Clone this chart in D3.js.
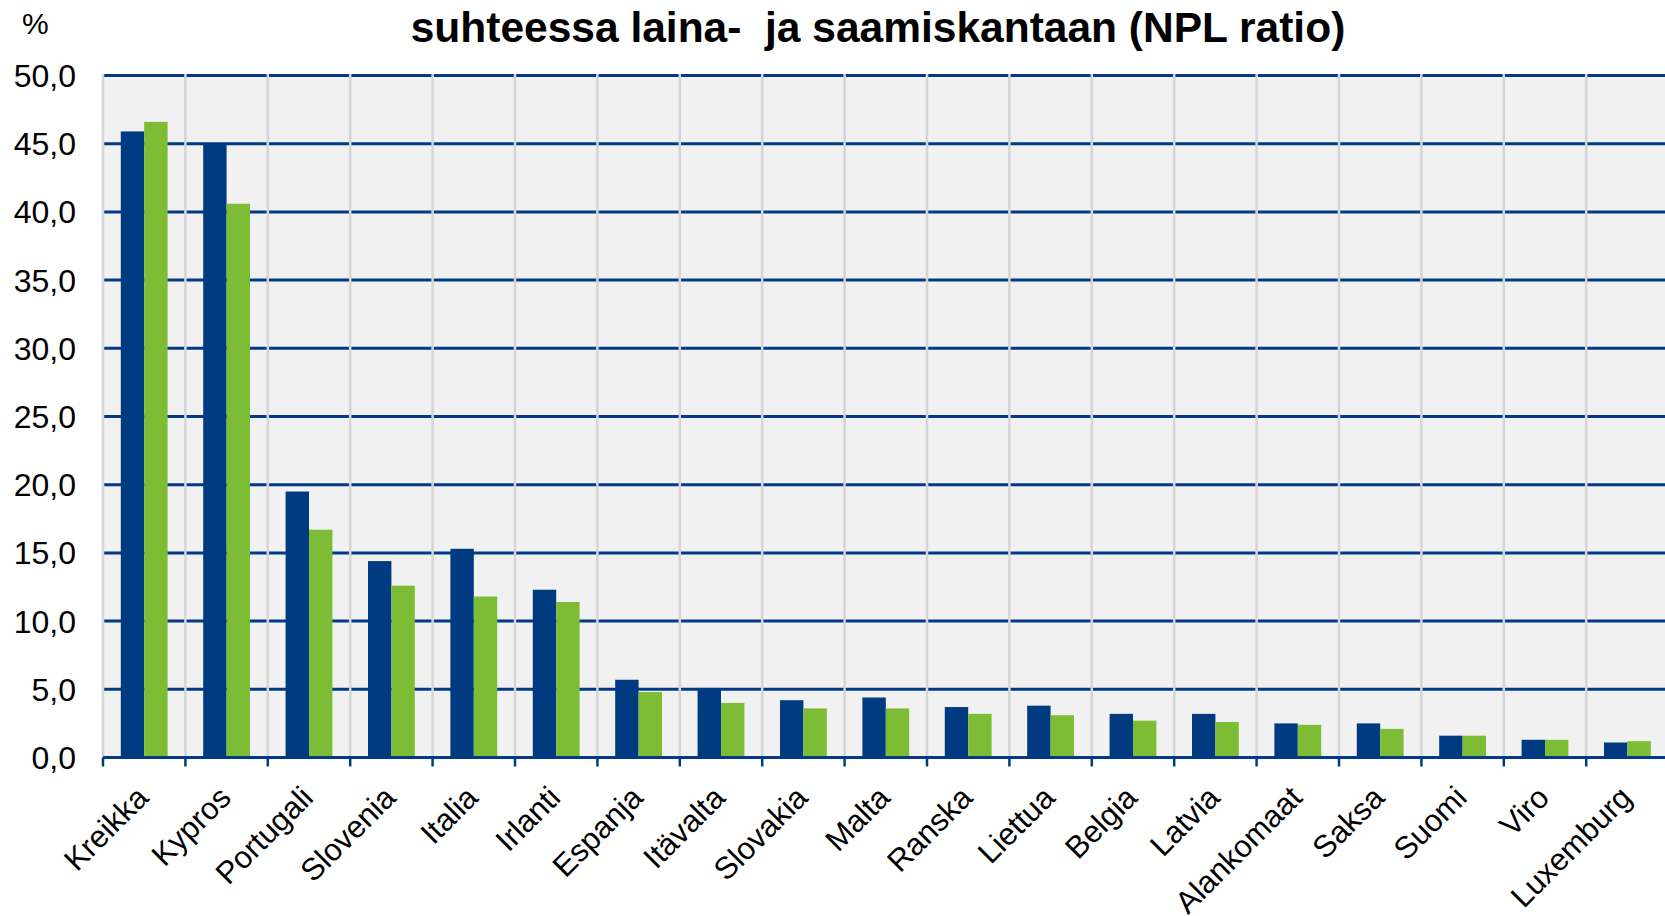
<!DOCTYPE html>
<html>
<head>
<meta charset="utf-8">
<script src="https://cdnjs.cloudflare.com/ajax/libs/d3/7.8.5/d3.min.js"></script>
<style>
    body { margin: 0; background: #ffffff; }
    svg text { font-family: "Liberation Sans", Arial, sans-serif; fill: #000000; }
</style>
</head>
<body>
<svg class="npl_chart" width="1665" height="916"></svg>
<script>
// maat ja arvot
var countries = ["Kreikka", "Kypros", "Portugali", "Slovenia", "Italia", "Irlanti", "Espanja", "Itävalta",
    "Slovakia", "Malta", "Ranska", "Liettua", "Belgia", "Latvia", "Alankomaat", "Saksa", "Suomi", "Viro", "Luxemburg"];

var nplBlue = [45.9, 45.0, 19.5, 14.4, 15.3, 12.3, 5.7, 5.1, 4.2, 4.4, 3.7, 3.8, 3.2, 3.2, 2.5, 2.5, 1.6, 1.3, 1.1];
var nplGreen = [46.6, 40.6, 16.7, 12.6, 11.8, 11.4, 4.8, 4.0, 3.6, 3.6, 3.2, 3.1, 2.7, 2.6, 2.4, 2.1, 1.6, 1.3, 1.2];

var yTicks = [0, 5, 10, 15, 20, 25, 30, 35, 40, 45, 50];

var titleText = "suhteessa laina-\u00a0 ja saamiskantaan (NPL ratio)";

var svg = d3.select('.npl_chart');

var plot = { left: 103, top: 75.5, bottom: 757.5, step: 82.4 },
    plot_right = plot.left + countries.length * plot.step;

var lineBlue = "#023b85",
    barBlue = "#003a80",
    barGreen = "#7cbd35";

var xScale = d3.scaleBand()
    .domain(countries)
    .range([plot.left, plot_right])
    .padding(0);

var xInner = d3.scaleBand()
    .domain(["blue", "green"])
    .range([0, xScale.bandwidth()])
    .paddingInner(0)
    .paddingOuter(0.76);

var yScale = d3.scaleLinear()
    .domain([0, 50])
    .range([plot.bottom, plot.top]);

var fmt = function (v) { return d3.format(".1f")(v).replace(".", ","); };

// taustaväri
svg.append("rect")
    .attr("x", plot.left)
    .attr("y", plot.top)
    .attr("width", plot_right - plot.left)
    .attr("height", plot.bottom - plot.top)
    .attr("fill", "#f1f1f1");

// vaakaviivat
svg.append("g")
    .selectAll("line")
    .data(yTicks.filter(function (d) { return d > 0; }))
    .enter()
    .append("line")
    .attr("x1", plot.left)
    .attr("x2", plot_right)
    .attr("y1", function (d) { return yScale(d); })
    .attr("y2", function (d) { return yScale(d); })
    .attr("stroke", lineBlue)
    .attr("stroke-width", 3);

// pystyviivat kategorioiden välissä
var bounds = countries.map(function (c) { return xScale(c); }).concat([plot_right]);

svg.append("g")
    .selectAll("line")
    .data(bounds)
    .enter()
    .append("line")
    .attr("x1", function (d) { return d; })
    .attr("x2", function (d) { return d; })
    .attr("y1", plot.top - 1.5)
    .attr("y2", plot.bottom)
    .attr("stroke", "#d5d5d5")
    .attr("stroke-width", 2.5);

// pylväät
var bars = svg.append("g");

bars.selectAll("rect.blue")
    .data(nplBlue)
    .enter()
    .append("rect")
    .attr("class", "blue")
    .attr("x", function (d, i) { return xScale(countries[i]) + xInner("blue"); })
    .attr("y", function (d) { return yScale(d); })
    .attr("width", xInner.bandwidth())
    .attr("height", function (d) { return plot.bottom - yScale(d); })
    .attr("fill", barBlue);

bars.selectAll("rect.green")
    .data(nplGreen)
    .enter()
    .append("rect")
    .attr("class", "green")
    .attr("x", function (d, i) { return xScale(countries[i]) + xInner("green"); })
    .attr("y", function (d) { return yScale(d); })
    .attr("width", xInner.bandwidth())
    .attr("height", function (d) { return plot.bottom - yScale(d); })
    .attr("fill", barGreen);

// x-akseli
var xAxis = svg.append("g");

xAxis.append("line")
    .attr("x1", plot.left)
    .attr("x2", plot_right)
    .attr("y1", plot.bottom)
    .attr("y2", plot.bottom)
    .attr("stroke", lineBlue)
    .attr("stroke-width", 3);

xAxis.selectAll("line.tick")
    .data(bounds)
    .enter()
    .append("line")
    .attr("class", "tick")
    .attr("x1", function (d) { return d; })
    .attr("x2", function (d) { return d; })
    .attr("y1", plot.bottom)
    .attr("y2", plot.bottom + 9)
    .attr("stroke", lineBlue)
    .attr("stroke-width", 2.5);

xAxis.selectAll("text")
    .data(countries)
    .enter()
    .append("text")
    .attr("text-anchor", "end")
    .attr("font-size", "31px")
    .attr("transform", function (d) {
        return "translate(" + (xScale(d) + xScale.bandwidth() / 2 + 6) + "," + (plot.bottom + 42) + ") rotate(-45)";
    })
    .text(function (d) { return d; });

// y-akselin tekstit
svg.append("g")
    .selectAll("text")
    .data(yTicks)
    .enter()
    .append("text")
    .attr("x", 76)
    .attr("y", function (d) { return yScale(d); })
    .attr("dy", "0.36em")
    .attr("text-anchor", "end")
    .attr("font-size", "32px")
    .text(fmt);

svg.append("text")
    .attr("x", 22)
    .attr("y", 34)
    .attr("font-size", "30px")
    .text("%");

// otsikko
svg.append("text")
    .attr("x", 878)
    .attr("y", 42)
    .attr("text-anchor", "middle")
    .attr("font-size", "42.5px")
    .attr("font-weight", "bold")
    .text(titleText);
</script>
</body>
</html>
